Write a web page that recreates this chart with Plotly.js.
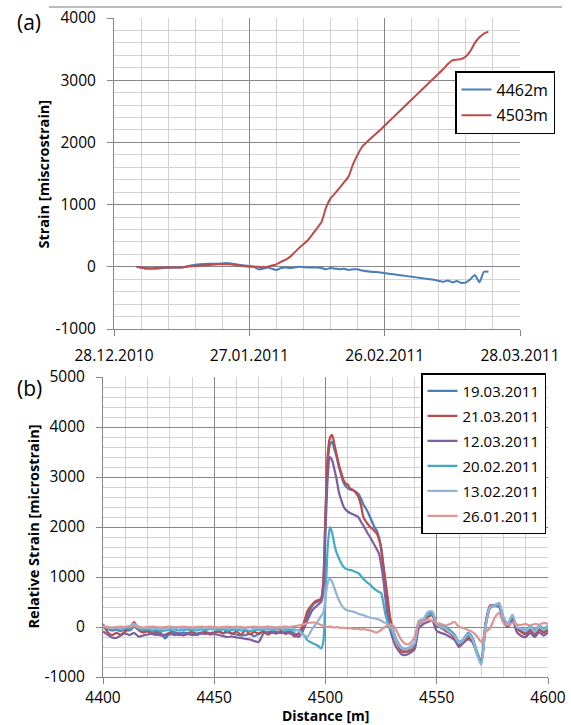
<!DOCTYPE html>
<html>
<head>
<meta charset="utf-8">
<script src="https://cdn.plot.ly/plotly-3.0.1.min.js"></script>
<style>
  html, body { margin: 0; padding: 0; background: #fff; }
  #chart { width: 571px; height: 725px; }
</style>
</head>
<body>
<div id="chart"></div>
<script>
// ---------- (a) strain history at two fibre positions ----------
const measureDates = [
  '2011-01-02','2011-01-04','2011-01-06','2011-01-08','2011-01-10','2011-01-12','2011-01-14','2011-01-16','2011-01-18','2011-01-20',
  '2011-01-22','2011-01-24','2011-01-26','2011-01-28','2011-01-29','2011-01-30','2011-01-31','2011-02-01','2011-02-02','2011-02-03',
  '2011-02-04','2011-02-05','2011-02-07','2011-02-09','2011-02-11','2011-02-12','2011-02-13','2011-02-14','2011-02-15','2011-02-16',
  '2011-02-17','2011-02-18','2011-02-19','2011-02-20','2011-02-21','2011-02-23','2011-02-25','2011-02-27','2011-03-01','2011-03-03',
  '2011-03-05','2011-03-07','2011-03-09','2011-03-11','2011-03-12','2011-03-13','2011-03-14','2011-03-15','2011-03-16','2011-03-17',
  '2011-03-18','2011-03-19','2011-03-20','2011-03-21'
];
const strain4462 = [
  0,-30,-30,-20,-10,-10,20,40,50,50,
  60,40,20,0,-40,-30,-10,-30,-50,-20,
  -10,-20,0,-10,-10,-20,-40,-20,-30,-40,
  -30,-50,-40,-40,-60,-80,-90,-110,-130,-150,
  -170,-190,-210,-240,-220,-250,-230,-260,-250,-200,
  -130,-250,-80,-80
];
const strain4503 = [
  0,-20,-20,-10,-10,-10,10,20,30,40,
  40,30,10,0,0,-10,0,20,40,80,
  110,160,300,430,620,720,950,1100,1180,1270,
  1360,1450,1650,1800,1930,2070,2200,2340,2480,2620,
  2760,2900,3040,3180,3260,3320,3330,3340,3380,3470,
  3600,3690,3750,3780
];
const seriesA = [
  { name: '4462m', values: strain4462, color: '#4A7EBB' },
  { name: '4503m', values: strain4503, color: '#BE4B48' }
];
const strainTicksA = [-1000, 0, 1000, 2000, 3000, 4000];
const strainLabelsA = ['-1000', '0', '1000', '2000', '3000', '4000'];

// ---------- (b) relative strain profiles along the fibre ----------
const distance = [
  4400,4402,4404,4406,4408,4410,4412,4414,4416,4418,
  4420,4422,4424,4426,4428,4430,4432,4434,4436,4438,
  4440,4442,4444,4446,4448,4450,4452,4454,4456,4458,
  4460,4462,4464,4466,4468,4470,4472,4474,4476,4478,
  4480,4482,4484,4486,4488,4490,4492,4494,
  4495,4496,4497,4498,4499,4500,4501,4502,4503,4504,
  4505,4506,4507,4508,4509,4510,4511,4512,4513,4514,
  4515,4516,4517,4518,4519,4520,4521,4522,4523,4524,
  4525,4526,4527,4528,4529,4530,4531,
  4532,4534,4536,4538,4540,4542,4544,4546,4548,4550,
  4552,4554,4556,4558,4560,4562,4564,4566,4568,4570,
  4572,4574,4576,4578,4580,4582,4584,4586,4588,4590,
  4592,4594,4596,4598,4600
];
const strain19Mar = [
  0,-40,-70,-60,-80,-50,-70,0,-60,-80,
  -70,-100,-90,-120,-230,-110,-100,-130,-110,-120,
  -100,-130,-110,-100,-120,-110,-100,-120,-110,-130,
  -150,-170,-160,-140,-180,-140,-100,-110,-90,-120,
  -100,-110,-90,-130,-140,-20,250,420,
  470,500,520,540,850,2200,3300,3650,3700,3550,
  3400,3200,3050,2900,2820,2780,2750,2740,2720,2690,
  2650,2560,2450,2380,2300,2200,2100,2000,1930,1800,
  1600,1250,850,480,150,-30,-150,
  -280,-430,-460,-420,-350,100,150,280,300,40,
  -20,-60,-130,-200,-340,-300,-180,-260,-520,-720,
  80,420,440,460,180,60,230,-20,-60,-120,
  -40,-140,-20,-90,-30
];
const strain21Mar = [
  60,-100,-160,-120,-150,-90,-20,100,-60,-110,
  -90,-140,-120,-170,-150,-120,-160,-130,-170,-140,
  -110,-160,-130,-100,-150,-120,-80,-130,-60,-140,
  -90,-150,-70,-140,-100,-130,-90,-150,-110,-130,
  -80,-140,-100,-190,-120,50,330,450,
  500,530,540,570,900,2300,3450,3780,3840,3650,
  3450,3250,3100,2950,2870,2850,2770,2750,2720,2660,
  2580,2420,2200,2120,2060,2000,1970,1920,1870,1760,
  1550,1200,900,560,200,0,-150,
  -300,-480,-500,-470,-420,60,120,200,230,20,
  0,-80,-120,-220,-400,-300,-220,-290,-520,-700,
  100,430,420,480,120,60,180,-30,-100,-150,
  -80,-180,-60,-120,-60
];
const strain12Mar = [
  -90,-150,-210,-220,-170,-130,-160,-120,-190,-170,
  -150,-140,-160,-150,-170,-150,-140,-160,-150,-140,
  -160,-150,-130,-140,-120,-140,-160,-180,-200,-190,
  -210,-220,-240,-250,-280,-300,-140,-100,-110,-100,
  -120,-110,-130,-160,-200,-60,150,330,
  380,420,460,500,700,1900,3000,3400,3330,3150,
  2950,2700,2550,2420,2350,2310,2280,2260,2240,2220,
  2180,2100,2030,1950,1870,1800,1720,1640,1560,1470,
  1250,950,550,200,-50,-200,-330,
  -420,-540,-560,-520,-450,-20,60,100,120,-80,
  -120,-150,-200,-260,-380,-320,-250,-300,-500,-680,
  20,380,420,400,100,0,150,-100,-180,-200,
  -120,-200,-110,-170,-110
];
const strain20Feb = [
  20,-30,-40,-30,-50,-20,-30,30,-40,-60,
  -50,-70,-60,-80,-70,-60,-50,-70,-60,-50,
  -60,-70,-50,-60,-40,-50,-60,-50,-70,-60,
  -50,-70,-60,-80,-60,-50,-60,-40,-60,-50,
  -40,-60,-50,-70,-60,-150,-270,-320,
  -340,-360,-390,-430,-300,600,1600,2000,1880,1650,
  1480,1380,1280,1210,1170,1150,1140,1130,1110,1090,
  1070,1020,960,920,880,850,800,760,730,700,
  680,480,240,90,-20,-100,-200,
  -260,-400,-440,-400,-320,120,130,250,260,60,
  30,0,-60,-150,-300,-240,-120,-200,-480,-700,
  60,400,430,440,180,80,220,0,-30,-60,
  20,-60,20,-30,20
];
const strain13Feb = [
  30,-10,-20,-10,-30,0,20,60,10,-20,
  -10,-30,-20,-40,-30,-20,-30,-10,-30,-20,
  -10,-30,-20,-10,-20,-30,-20,-10,-30,-20,
  -10,-30,-20,-10,-30,-20,-10,-20,-30,-10,
  -20,-30,-10,-40,-80,-160,-190,-40,
  20,80,150,220,280,600,880,970,900,780,
  650,540,450,390,350,330,320,310,300,280,
  260,250,240,220,200,190,180,170,160,150,
  130,100,80,50,10,-30,-150,
  -280,-420,-450,-410,-330,130,160,300,310,50,
  0,-40,-110,-180,-320,-260,-150,-240,-540,-760,
  40,400,430,470,200,70,250,0,-40,-80,
  0,-100,0,-60,0
];
const strain26Jan = [
  10,0,-10,0,10,0,10,20,0,-10,
  0,10,0,-10,0,10,0,0,10,0,
  -10,0,10,0,10,0,-10,0,10,0,
  10,0,-10,0,10,0,0,10,0,-10,
  0,10,0,20,30,50,80,90,
  90,80,60,40,20,10,0,10,0,-10,
  0,-10,-20,-10,-20,-30,-20,-30,-40,-30,
  -40,-50,-40,-50,-60,-70,-80,-100,-110,-90,
  -60,-20,10,30,50,40,0,
  -80,-250,-340,-330,-200,80,110,150,120,80,
  60,30,60,100,0,-20,-60,-100,-180,-300,
  -100,-20,180,280,80,40,80,50,40,60,
  30,60,50,80,60
];
const seriesB = [
  { name: '19.03.2011', values: strain19Mar, color: '#4A7EBB' },
  { name: '21.03.2011', values: strain21Mar, color: '#BE4B48' },
  { name: '12.03.2011', values: strain12Mar, color: '#7D60A0' },
  { name: '20.02.2011', values: strain20Feb, color: '#46AAC5' },
  { name: '13.02.2011', values: strain13Feb, color: '#93B3D7' },
  { name: '26.01.2011', values: strain26Jan, color: '#D99795' }
];
const strainTicksB = [-1000, 0, 1000, 2000, 3000, 4000, 5000];
const strainLabelsB = ['-1000', '0', '1000', '2000', '3000', '4000', '5000'];

// ---------- styling ----------
const W = 571, H = 725;
const FONT = '"Open Sans", "Noto Sans", Arial, sans-serif';
const MAJOR = '#868686';
const MINOR = '#d3d3d3';
const DAY = 86400000;
const px = v => v / W;          // horizontal pixel -> paper
const py = v => 1 - v / H;      // vertical pixel -> paper

const traces = [];
seriesA.forEach((s, i) => traces.push({
  type: 'scatter', mode: 'lines', name: s.name,
  x: measureDates, y: s.values, xaxis: 'x', yaxis: 'y',
  legend: 'legend', legendgroup: 'a' + i,
  line: { color: s.color, width: 2, shape: 'spline', smoothing: 0.5 }
}));
seriesB.forEach((s, i) => traces.push({
  type: 'scatter', mode: 'lines', name: s.name,
  x: distance, y: s.values, xaxis: 'x2', yaxis: 'y2',
  legend: 'legend2', legendgroup: 'b' + i,
  line: { color: s.color, width: 2.25, shape: 'spline', smoothing: 0.7 }
}));

const tickFont = { family: FONT, size: 15.5, color: '#000' };
const baseAxis = {
  showgrid: true, gridcolor: MAJOR, gridwidth: 1,
  showline: true, linecolor: MAJOR, linewidth: 1,
  ticks: 'outside', ticklen: 6, tickcolor: MAJOR,
  zeroline: false, fixedrange: true, tickfont: tickFont
};
const titleFont = { family: FONT, size: 14.5, color: '#000' };

const layout = {
  width: W, height: H,
  margin: { l: 0, r: 0, t: 0, b: 0 },
  paper_bgcolor: '#fff', plot_bgcolor: '#fff',
  font: { family: FONT, size: 15.5, color: '#000' },
  showlegend: true,
  xaxis: Object.assign({}, baseAxis, {
    domain: [px(114), px(520)], anchor: 'y', type: 'date',
    range: ['2010-12-28', '2011-03-28'],
    tickmode: 'linear', tick0: '2010-12-28', dtick: 30 * DAY,
    tickformat: '%d.%m.%Y', ticklabelstandoff: 6,
    minor: { tick0: '2010-12-28', dtick: 6 * DAY, showgrid: true, gridcolor: MINOR, gridwidth: 1 }
  }),
  yaxis: Object.assign({}, baseAxis, {
    domain: [py(329), py(18)], anchor: 'x',
    range: [-1000, 4000], tickmode: 'array',
    tickvals: strainTicksA, ticktext: strainLabelsA,
    ticklabelstandoff: 8,
    minor: { tickmode: 'linear', tick0: 0, dtick: 200, showgrid: true, gridcolor: MINOR, gridwidth: 1 }
  }),
  xaxis2: Object.assign({}, baseAxis, {
    domain: [px(103), px(548)], anchor: 'y2',
    range: [4400, 4600], tickmode: 'linear', tick0: 4400, dtick: 50,
    ticklabelstandoff: 0,
    minor: { tick0: 4400, dtick: 10, showgrid: true, gridcolor: MINOR, gridwidth: 1 }
  }),
  yaxis2: Object.assign({}, baseAxis, {
    domain: [py(677), py(377)], anchor: 'x2',
    range: [-1000, 5000], tickmode: 'array',
    tickvals: strainTicksB, ticktext: strainLabelsB,
    ticklabelstandoff: 8,
    minor: { tickmode: 'linear', tick0: 0, dtick: 200, showgrid: true, gridcolor: MINOR, gridwidth: 1 }
  }),
  legend: {
    x: px(455), y: py(71), xanchor: 'left', yanchor: 'top',
    bgcolor: '#fff', bordercolor: '#000', borderwidth: 1.5,
    font: { family: FONT, size: 16, color: '#000' },
    traceorder: 'grouped', tracegroupgap: 2
  },
  legend2: {
    x: px(421), y: py(373), xanchor: 'left', yanchor: 'top',
    bgcolor: '#fff', bordercolor: '#000', borderwidth: 1.5,
    font: { family: FONT, size: 15, color: '#000' },
    traceorder: 'grouped', tracegroupgap: 2.5
  },
  shapes: [
    { type: 'line', xref: 'paper', yref: 'paper',
      x0: px(49), x1: px(562), y0: py(7), y1: py(7),
      line: { color: '#a6a6a6', width: 1.5 } }
  ],
  annotations: [
    { text: '(a)', xref: 'paper', yref: 'paper', x: px(29), y: py(22),
      showarrow: false, xanchor: 'center', yanchor: 'middle',
      font: { family: FONT, size: 21, color: '#000' } },
    { text: '(b)', xref: 'paper', yref: 'paper', x: px(29), y: py(388),
      showarrow: false, xanchor: 'center', yanchor: 'middle',
      font: { family: FONT, size: 21, color: '#000' } },
    { text: '<b>Strain [miscrostrain]</b>', xref: 'paper', yref: 'paper',
      x: px(43), y: py(173.5), textangle: -90, showarrow: false,
      xanchor: 'center', yanchor: 'middle', font: titleFont },
    { text: '<b>Relative Strain [microstrain]</b>', xref: 'paper', yref: 'paper',
      x: px(32.5), y: py(527), textangle: -90, showarrow: false,
      xanchor: 'center', yanchor: 'middle', font: titleFont },
    { text: '<b>Distance [m]</b>', xref: 'paper', yref: 'paper',
      x: px(325), y: py(715), showarrow: false, borderpad: 0,
      xanchor: 'center', yanchor: 'middle',
      font: { family: FONT, size: 14, color: '#000' } }
  ]
};

Plotly.newPlot('chart', traces, layout, { displayModeBar: false, staticPlot: true });
</script>
</body>
</html>
